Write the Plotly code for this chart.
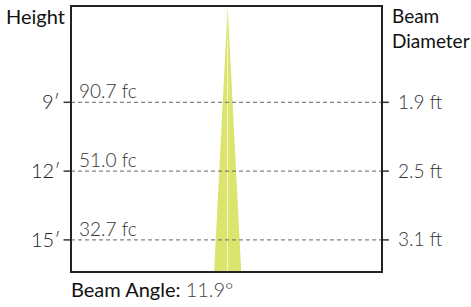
import plotly.graph_objects as go

# ---- data ----
heights_ft = [9, 12, 15]
height_labels = ["9′", "12′", "15′"]
illuminance = ["90.7 fc", "51.0 fc", "32.7 fc"]
beam_diam = ["1.9 ft", "2.5 ft", "3.1 ft"]
beam_angle = 11.9

# schematic beam cone (height ft, half width in drawing ft)
beam_heights = [4.8, 16.4]
beam_half_widths = [0.0, 1.16]

y_range = [16.4, 4.8]
x_range = [-13.4, 13.2]

FONT = "Lato"
fig = go.Figure()

# beam halves
top_h, bot_h = beam_heights
hw = beam_half_widths[1]
fig.add_trace(go.Scatter(x=[0, -hw, 0, 0], y=[top_h, bot_h, bot_h, top_h], fill="toself",
                         fillcolor="#dbe46c", line=dict(width=0), mode="lines", hoverinfo="skip"))
fig.add_trace(go.Scatter(x=[0, hw, 0, 0], y=[top_h, bot_h, bot_h, top_h], fill="toself",
                         fillcolor="#dbe46c", line=dict(width=0), mode="lines", hoverinfo="skip"))
fig.add_trace(go.Scatter(x=[0, 0], y=[top_h + 1.5, bot_h], mode="lines",
                         line=dict(color="rgba(255,255,255,0.6)", width=1), hoverinfo="skip"))

shapes = []
annotations = []
for h, hl, il, bd in zip(heights_ft, height_labels, illuminance, beam_diam):
    shapes.append(dict(type="line", xref="paper", yref="y", x0=0, x1=1, y0=h, y1=h,
                       line=dict(color="#666", width=1, dash="4px,3px"), layer="above"))
    shapes.append(dict(type="line", xref="paper", yref="y", x0=-0.024, x1=0, y0=h, y1=h,
                       line=dict(color="#333", width=1.5)))
    shapes.append(dict(type="line", xref="paper", yref="y", x0=1, x1=1.022, y0=h, y1=h,
                       line=dict(color="#333", width=1.5)))
    annotations.append(dict(xref="paper", yref="y", x=-0.028, y=h, text=hl, showarrow=False,
                            xanchor="right", yanchor="middle", yshift=1,
                            font=dict(family=FONT, size=20, color="#222", weight=300)))
    annotations.append(dict(xref="paper", yref="y", x=0.018, y=h, text=il, showarrow=False,
                            xanchor="left", yanchor="bottom", yshift=-2,
                            font=dict(family=FONT, size=19, color="#333", weight=300)))
    annotations.append(dict(xref="paper", yref="y", x=1.045, y=h, text=bd, showarrow=False,
                            xanchor="left", yanchor="middle", yshift=1,
                            font=dict(family=FONT, size=19, color="#333", weight=300)))

shapes.append(dict(type="rect", xref="paper", yref="paper", x0=0, x1=1, y0=0, y1=1,
                   line=dict(color="#222", width=2), layer="above"))

annotations.append(dict(xref="paper", yref="paper", x=-0.215, y=1.0, text="Height", showarrow=False,
                        xanchor="left", yanchor="top", yshift=4,
                        font=dict(family=FONT, size=20, color="#111")))
annotations.append(dict(xref="paper", yref="paper", x=1.025, y=1.0,
                        text="Beam<br>Diameter", showarrow=False, align="left",
                        xanchor="left", yanchor="top", yshift=4,
                        font=dict(family=FONT, size=19, color="#111")))
annotations.append(dict(xref="paper", yref="paper", x=-0.008, y=0, yshift=-3,
                        text="Beam Angle: <span style='color:#444;font-weight:300'>%.1f°</span>" % beam_angle,
                        showarrow=False, xanchor="left", yanchor="top",
                        font=dict(family=FONT, size=20, color="#111")))

fig.update_layout(
    width=471, height=307,
    margin=dict(l=71, r=89, t=6, b=35),
    paper_bgcolor="white", plot_bgcolor="white",
    showlegend=False,
    xaxis=dict(range=x_range, visible=False, fixedrange=True),
    yaxis=dict(range=y_range, visible=False, fixedrange=True),
    shapes=shapes, annotations=annotations,
)

fig.write_html("out.html", config={"displayModeBar": False})
with open("out.html", encoding="utf-8") as f:
    html = f.read()
html = html.replace("<body>", "<body style=\"margin:0;padding:0;overflow:hidden\">", 1)
with open("out.html", "w", encoding="utf-8") as f:
    f.write(html)
